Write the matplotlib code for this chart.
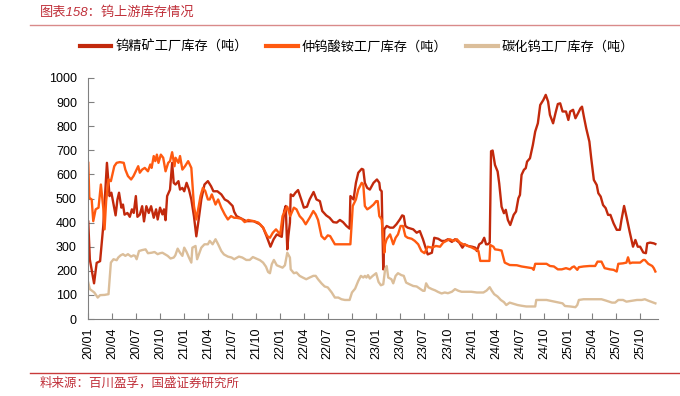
import matplotlib
matplotlib.use("Agg")
import matplotlib.pyplot as plt
import matplotlib.dates as mdates
from matplotlib.lines import Line2D
import pandas as pd

plt.rcParams['font.family'] = ['Liberation Sans', 'Noto Sans CJK SC', 'DejaVu Sans']

title = "图表158：钨上游库存情况"
source = "料来源：百川盈孚，国盛证券研究所"
names = ["钨精矿工厂库存（吨）", "仲钨酸铵工厂库存（吨）", "碳化钨工厂库存（吨）"]
colors = ["#C2290C", "#FF5A10", "#DBBE9A"]

# 钨精矿工厂库存
ore_dates = [
    "2020-01-02", "2020-01-08", "2020-01-24", "2020-02-03", "2020-02-16", "2020-02-28", "2020-03-13", "2020-03-23",
    "2020-03-30", "2020-04-15", "2020-04-22", "2020-04-28", "2020-05-07", "2020-05-13", "2020-05-19", "2020-05-30",
    "2020-06-08", "2020-06-16", "2020-06-23", "2020-07-01", "2020-07-07", "2020-07-16", "2020-07-25", "2020-08-01",
    "2020-08-10", "2020-08-19", "2020-08-28", "2020-09-07", "2020-09-16", "2020-09-22", "2020-10-01", "2020-10-10",
    "2020-10-16", "2020-10-22", "2020-10-28", "2020-11-08", "2020-11-16", "2020-11-22", "2020-11-29", "2020-12-10",
    "2020-12-16", "2020-12-25", "2021-01-01", "2021-01-10", "2021-01-19", "2021-01-28", "2021-02-07", "2021-02-16",
    "2021-02-25", "2021-03-07", "2021-03-19", "2021-04-01", "2021-04-13", "2021-04-22", "2021-05-07", "2021-05-22",
    "2021-06-04", "2021-06-16", "2021-06-29", "2021-07-04", "2021-07-10", "2021-07-19", "2021-08-07", "2021-08-25",
    "2021-09-22", "2021-10-16", "2021-10-28", "2021-11-10", "2021-11-25", "2021-12-07", "2021-12-19", "2022-01-01",
    "2022-01-07", "2022-01-16", "2022-01-22", "2022-01-28", "2022-02-01", "2022-02-07", "2022-02-10", "2022-02-19",
    "2022-02-28", "2022-03-10", "2022-03-22", "2022-04-01", "2022-04-13", "2022-04-23", "2022-05-08", "2022-05-19",
    "2022-06-01", "2022-06-10", "2022-06-25", "2022-07-08", "2022-07-22", "2022-08-04", "2022-08-16", "2022-08-28",
    "2022-09-10", "2022-09-22", "2022-09-25", "2022-10-07", "2022-10-16", "2022-10-25", "2022-11-07", "2022-11-13",
    "2022-11-19", "2022-11-28", "2022-12-08", "2022-12-22", "2023-01-04", "2023-01-13", "2023-01-16", "2023-01-22",
    "2023-01-28", "2023-02-01", "2023-02-10", "2023-02-23", "2023-03-07", "2023-03-19", "2023-04-01", "2023-04-10",
    "2023-04-16", "2023-04-22", "2023-05-01", "2023-05-22", "2023-06-04", "2023-06-16", "2023-06-28", "2023-07-04",
    "2023-07-16", "2023-08-01", "2023-08-10", "2023-08-25", "2023-09-07", "2023-09-19", "2023-10-01", "2023-10-16",
    "2023-10-28", "2023-11-13", "2023-11-25", "2023-12-04", "2023-12-16", "2024-01-01", "2024-01-13", "2024-01-19",
    "2024-01-28", "2024-02-07", "2024-02-16", "2024-02-23", "2024-03-01", "2024-03-08", "2024-03-13", "2024-03-19",
    "2024-03-28", "2024-04-07", "2024-04-13", "2024-04-22", "2024-05-01", "2024-05-08", "2024-05-16", "2024-05-25",
    "2024-06-07", "2024-06-16", "2024-06-25", "2024-07-01", "2024-07-07", "2024-07-16", "2024-07-23", "2024-07-28",
    "2024-08-08", "2024-08-19", "2024-08-28", "2024-09-07", "2024-09-16", "2024-09-28", "2024-10-07", "2024-10-16",
    "2024-10-23", "2024-11-04", "2024-11-13", "2024-11-22", "2024-12-01", "2024-12-10", "2024-12-23", "2025-01-01",
    "2025-01-08", "2025-01-19", "2025-01-28", "2025-02-07", "2025-02-16", "2025-02-22", "2025-03-01", "2025-03-10",
    "2025-03-22", "2025-03-29", "2025-04-08", "2025-04-19", "2025-04-25", "2025-05-04", "2025-05-13", "2025-05-23",
    "2025-06-01", "2025-06-10", "2025-06-22", "2025-07-04", "2025-07-16", "2025-07-22", "2025-08-01", "2025-08-10",
    "2025-08-22", "2025-09-04", "2025-09-13", "2025-09-22", "2025-10-01", "2025-10-13", "2025-10-23", "2025-10-28",
    "2025-11-08", "2025-11-22", "2025-11-28",
]
ore_vals = [
    404, 247, 148, 233, 240, 385, 648, 510,
    524, 430, 496, 524, 462, 475, 433, 440,
    424, 455, 440, 510, 424, 433, 468, 405,
    468, 440, 468, 420, 455, 413, 462, 434,
    455, 410, 510, 537, 648, 565, 558, 572,
    537, 544, 530, 565, 537, 496, 426, 343,
    413, 496, 558, 572, 551, 530, 530, 517,
    496, 489, 475, 469, 445, 427, 416, 406,
    406, 393, 379, 344, 300, 331, 351, 344,
    341, 448, 469, 289, 344, 400, 517, 510,
    524, 535, 496, 462, 466, 496, 527, 496,
    489, 448, 430, 420, 402, 400, 411, 402,
    386, 375, 510, 496, 565, 607, 623, 620,
    565, 544, 537, 565, 579, 565, 537, 530,
    206, 372, 386, 379, 379, 393, 413, 430,
    427, 386, 379, 372, 358, 365, 331, 310,
    268, 275, 337, 333, 324, 324, 331, 320,
    331, 317, 296, 310, 303, 300, 296, 282,
    310, 317, 337, 310, 310, 317, 696, 699,
    639, 612, 563, 466, 439, 453, 411, 390,
    432, 446, 501, 515, 598, 619, 626, 653,
    667, 722, 778, 812, 888, 909, 930, 902,
    847, 812, 854, 892, 895, 861, 861, 826,
    861, 868, 833, 854, 874, 881, 840, 791,
    736, 667, 577, 556, 522, 508, 473, 460,
    432, 432, 397, 370, 370, 411, 469, 425,
    363, 300, 328, 300, 300, 276, 273, 314,
    317, 314, 311,
]

# 仲钨酸铵工厂库存
apt_dates = [
    "2020-01-02", "2020-01-06", "2020-01-15", "2020-01-21", "2020-01-30", "2020-02-10", "2020-02-19", "2020-02-28",
    "2020-03-04", "2020-03-10", "2020-03-19", "2020-03-28", "2020-04-10", "2020-04-19", "2020-05-01", "2020-05-16",
    "2020-05-22", "2020-06-01", "2020-06-13", "2020-06-22", "2020-07-04", "2020-07-10", "2020-07-16", "2020-07-25",
    "2020-08-04", "2020-08-16", "2020-08-25", "2020-08-30", "2020-09-07", "2020-09-13", "2020-09-19", "2020-09-25",
    "2020-10-04", "2020-10-13", "2020-10-22", "2020-11-01", "2020-11-08", "2020-11-16", "2020-11-25", "2020-11-29",
    "2020-12-10", "2020-12-16", "2020-12-25", "2021-01-04", "2021-01-16", "2021-01-28", "2021-02-07", "2021-02-16",
    "2021-02-25", "2021-03-04", "2021-03-13", "2021-03-22", "2021-04-01", "2021-04-08", "2021-04-16", "2021-04-30",
    "2021-05-10", "2021-05-22", "2021-06-04", "2021-06-16", "2021-06-28", "2021-07-10", "2021-07-19", "2021-08-07",
    "2021-08-19", "2021-09-01", "2021-09-22", "2021-10-10", "2021-10-28", "2021-11-13", "2021-11-23", "2021-12-04",
    "2021-12-16", "2022-01-01", "2022-01-10", "2022-01-19", "2022-01-28", "2022-02-08", "2022-02-22", "2022-03-04",
    "2022-03-16", "2022-03-28", "2022-04-08", "2022-04-23", "2022-05-07", "2022-05-16", "2022-05-25", "2022-06-07",
    "2022-06-19", "2022-07-01", "2022-07-10", "2022-07-28", "2022-09-25", "2022-10-04", "2022-10-16", "2022-10-25",
    "2022-11-07", "2022-11-13", "2022-11-19", "2022-11-28", "2022-12-08", "2022-12-22", "2023-01-01", "2023-01-07",
    "2023-01-13", "2023-01-22", "2023-02-01", "2023-02-04", "2023-02-10", "2023-02-23", "2023-03-07", "2023-03-16",
    "2023-03-25", "2023-04-04", "2023-04-13", "2023-04-22", "2023-05-01", "2023-05-16", "2023-05-28", "2023-06-10",
    "2023-06-22", "2023-07-04", "2023-07-16", "2023-08-01", "2023-08-16", "2023-09-01", "2023-09-13", "2023-09-25",
    "2023-10-08", "2023-10-22", "2023-11-04", "2023-11-16", "2023-11-28", "2023-12-10", "2024-01-01", "2024-01-13",
    "2024-01-25", "2024-02-01", "2024-03-07", "2024-03-10", "2024-03-22", "2024-03-28", "2024-04-10", "2024-04-22",
    "2024-05-04", "2024-05-23", "2024-06-19", "2024-07-07", "2024-07-25", "2024-08-16", "2024-08-22", "2024-08-28",
    "2024-09-22", "2024-10-10", "2024-10-23", "2024-11-07", "2024-11-22", "2024-12-07", "2024-12-23", "2025-01-07",
    "2025-01-16", "2025-01-23", "2025-02-04", "2025-02-10", "2025-02-28", "2025-03-23", "2025-04-13", "2025-04-22",
    "2025-05-07", "2025-05-19", "2025-06-08", "2025-06-22", "2025-07-04", "2025-07-10", "2025-07-28", "2025-08-10",
    "2025-08-16", "2025-08-23", "2025-09-01", "2025-10-01", "2025-10-13", "2025-10-19", "2025-11-01", "2025-11-16",
    "2025-11-22", "2025-11-28",
]
apt_vals = [
    648, 503, 496, 406, 455, 462, 558, 462,
    372, 489, 579, 572, 634, 648, 651, 648,
    620, 593, 579, 593, 620, 634, 607, 620,
    627, 613, 641, 627, 676, 655, 682, 648,
    682, 669, 613, 648, 655, 692, 634, 669,
    648, 676, 620, 634, 655, 627, 469, 413,
    469, 510, 544, 531, 496, 496, 517, 475,
    496, 462, 434, 413, 427, 420, 420, 416,
    402, 411, 406, 400, 379, 344, 337, 358,
    372, 351, 427, 448, 466, 427, 462, 455,
    427, 413, 393, 420, 448, 434, 411, 344,
    331, 347, 344, 310, 310, 469, 496, 537,
    565, 558, 469, 455, 462, 475, 489, 489,
    427, 413, 275, 310, 331, 351, 310, 337,
    351, 386, 386, 344, 337, 333, 324, 310,
    282, 273, 300, 296, 303, 300, 317, 324,
    331, 324, 331, 317, 310, 306, 296, 289,
    282, 241, 241, 307, 300, 289, 287, 284,
    234, 224, 223, 218, 215, 211, 204, 229,
    229, 229, 220, 218, 206, 206, 211, 206,
    215, 218, 204, 215, 218, 220, 220, 238,
    238, 211, 206, 204, 197, 229, 231, 234,
    256, 231, 234, 234, 245, 245, 229, 220,
    211, 197,
]

# 碳化钨工厂库存
wc_dates = [
    "2020-01-02", "2020-01-08", "2020-01-25", "2020-02-07", "2020-02-16", "2020-03-04", "2020-03-19", "2020-03-28",
    "2020-04-07", "2020-04-19", "2020-04-25", "2020-05-04", "2020-05-13", "2020-05-22", "2020-06-01", "2020-06-13",
    "2020-06-22", "2020-06-28", "2020-07-04", "2020-07-13", "2020-07-25", "2020-08-07", "2020-08-16", "2020-08-30",
    "2020-09-10", "2020-09-22", "2020-10-01", "2020-10-10", "2020-10-19", "2020-10-30", "2020-11-10", "2020-11-22",
    "2020-11-28", "2020-12-07", "2020-12-16", "2020-12-25", "2021-01-01", "2021-01-10", "2021-01-19", "2021-01-28",
    "2021-02-01", "2021-02-13", "2021-02-19", "2021-02-28", "2021-03-07", "2021-03-19", "2021-04-01", "2021-04-08",
    "2021-04-19", "2021-04-30", "2021-05-10", "2021-05-22", "2021-06-01", "2021-06-16", "2021-06-30", "2021-07-10",
    "2021-07-28", "2021-08-10", "2021-08-25", "2021-09-07", "2021-09-19", "2021-10-04", "2021-10-16", "2021-10-28",
    "2021-11-08", "2021-11-16", "2021-11-23", "2021-11-30", "2021-12-08", "2021-12-19", "2022-01-01", "2022-01-10",
    "2022-01-19", "2022-01-28", "2022-02-07", "2022-02-10", "2022-02-22", "2022-03-04", "2022-03-16", "2022-03-28",
    "2022-04-10", "2022-04-23", "2022-05-07", "2022-05-16", "2022-05-25", "2022-06-07", "2022-06-19", "2022-07-01",
    "2022-07-16", "2022-07-28", "2022-08-10", "2022-08-22", "2022-09-04", "2022-09-22", "2022-10-01", "2022-10-13",
    "2022-10-25", "2022-11-04", "2022-11-13", "2022-11-19", "2022-11-25", "2022-12-01", "2022-12-08", "2022-12-19",
    "2023-01-01", "2023-01-10", "2023-01-19", "2023-01-28", "2023-02-04", "2023-02-10", "2023-02-16", "2023-02-28",
    "2023-03-07", "2023-03-16", "2023-03-25", "2023-04-07", "2023-04-16", "2023-04-25", "2023-05-08", "2023-05-22",
    "2023-06-04", "2023-06-16", "2023-06-28", "2023-07-04", "2023-07-10", "2023-07-19", "2023-08-01", "2023-08-13",
    "2023-08-25", "2023-09-07", "2023-09-19", "2023-10-01", "2023-10-16", "2023-10-28", "2023-11-10", "2023-11-22",
    "2023-12-10", "2023-12-29", "2024-01-19", "2024-02-01", "2024-02-13", "2024-02-25", "2024-03-08", "2024-03-16",
    "2024-03-25", "2024-04-07", "2024-04-19", "2024-05-01", "2024-05-10", "2024-05-23", "2024-06-07", "2024-06-22",
    "2024-07-07", "2024-07-25", "2024-08-16", "2024-08-28", "2024-09-01", "2024-09-22", "2024-10-10", "2024-10-23",
    "2024-11-08", "2024-11-25", "2024-12-10", "2024-12-19", "2025-01-08", "2025-01-28", "2025-02-04", "2025-02-10",
    "2025-02-28", "2025-03-23", "2025-04-19", "2025-05-07", "2025-05-25", "2025-06-16", "2025-06-28", "2025-07-10",
    "2025-07-28", "2025-08-10", "2025-09-01", "2025-09-19", "2025-10-07", "2025-10-19", "2025-11-01", "2025-11-16",
    "2025-11-28",
]
wc_vals = [
    151, 124, 110, 89, 99, 100, 103, 234,
    248, 244, 255, 264, 269, 262, 269, 259,
    264, 262, 248, 282, 286, 289, 273, 275,
    278, 269, 273, 275, 269, 262, 251, 255,
    264, 292, 275, 262, 296, 278, 255, 234,
    296, 303, 248, 275, 296, 310, 310, 324,
    310, 331, 310, 282, 268, 259, 255, 248,
    259, 255, 245, 245, 257, 250, 244, 234,
    217, 195, 190, 227, 245, 223, 217, 213,
    223, 275, 255, 206, 190, 193, 179, 172,
    165, 172, 179, 179, 165, 148, 135, 131,
    110, 89, 89, 82, 79, 79, 110, 126,
    158, 179, 172, 179, 172, 182, 168, 179,
    190, 154, 140, 144, 206, 220, 172, 165,
    148, 179, 190, 182, 179, 151, 144, 137,
    135, 126, 117, 117, 148, 131, 124, 119,
    112, 106, 110, 107, 113, 124, 117, 113,
    113, 113, 110, 110, 110, 118, 132, 117,
    103, 93, 79, 70, 58, 68, 63, 58,
    55, 52, 52, 52, 79, 79, 79, 76,
    72, 68, 65, 54, 52, 49, 58, 79,
    82, 82, 82, 82, 76, 68, 68, 79,
    79, 72, 76, 79, 79, 82, 76, 70,
    65,
]

fig = plt.figure(figsize=(6.8, 3.96), dpi=100)
ax = fig.add_axes([88 / 680, 1 - 319 / 396, 570 / 680, 241 / 396])

series = [(ore_dates, ore_vals), (apt_dates, apt_vals), (wc_dates, wc_vals)]
for (d, v), name, c in zip(series, names, colors):
    ax.plot(pd.to_datetime(d), v, color=c, lw=1.7, label=name, solid_joinstyle='round')

ax.set_ylim(0, 1000)
ax.set_yticks(range(0, 1001, 100))
ax.set_xlim(pd.Timestamp("2020-01-01"), pd.Timestamp("2025-12-08"))
ax.xaxis.set_major_locator(mdates.MonthLocator(bymonth=[1, 4, 7, 10]))
ax.xaxis.set_major_formatter(mdates.DateFormatter("%y/%m"))
for lab in ax.get_xticklabels():
    lab.set_rotation(90)

for s in ["top", "right"]:
    ax.spines[s].set_visible(False)
for s in ["left", "bottom"]:
    ax.spines[s].set_color("#808080")
    ax.spines[s].set_linewidth(0.8)
ax.tick_params(axis="both", direction="in", length=4, width=0.8, color="#808080",
               labelsize=9, labelcolor="black")
ax.tick_params(axis="y", pad=8)
ax.tick_params(axis="x", pad=6)

fig.legend(loc="center", bbox_to_anchor=(0.525, 1 - 47 / 396), ncol=3, frameon=False,
           fontsize=9.5, handlelength=2.4, handletextpad=0.3, columnspacing=1.4)
for ln in fig.legends[0].get_lines():
    ln.set_linewidth(3)

fig.text(40 / 680, 1 - 12 / 396, title, color="#C0303A", fontsize=9.5, style="italic",
         va="center", ha="left")
fig.add_artist(Line2D([30 / 680, 1], [1 - 25 / 396] * 2, color="#D98A8A", lw=1))
fig.add_artist(Line2D([30 / 680, 1], [1 - 373 / 396] * 2, color="#C83A3A", lw=1))
fig.text(40 / 680, 1 - 383 / 396, source, color="#C0303A", fontsize=9, style="italic",
         va="center", ha="left")

fig.savefig("out.png", dpi=100)
